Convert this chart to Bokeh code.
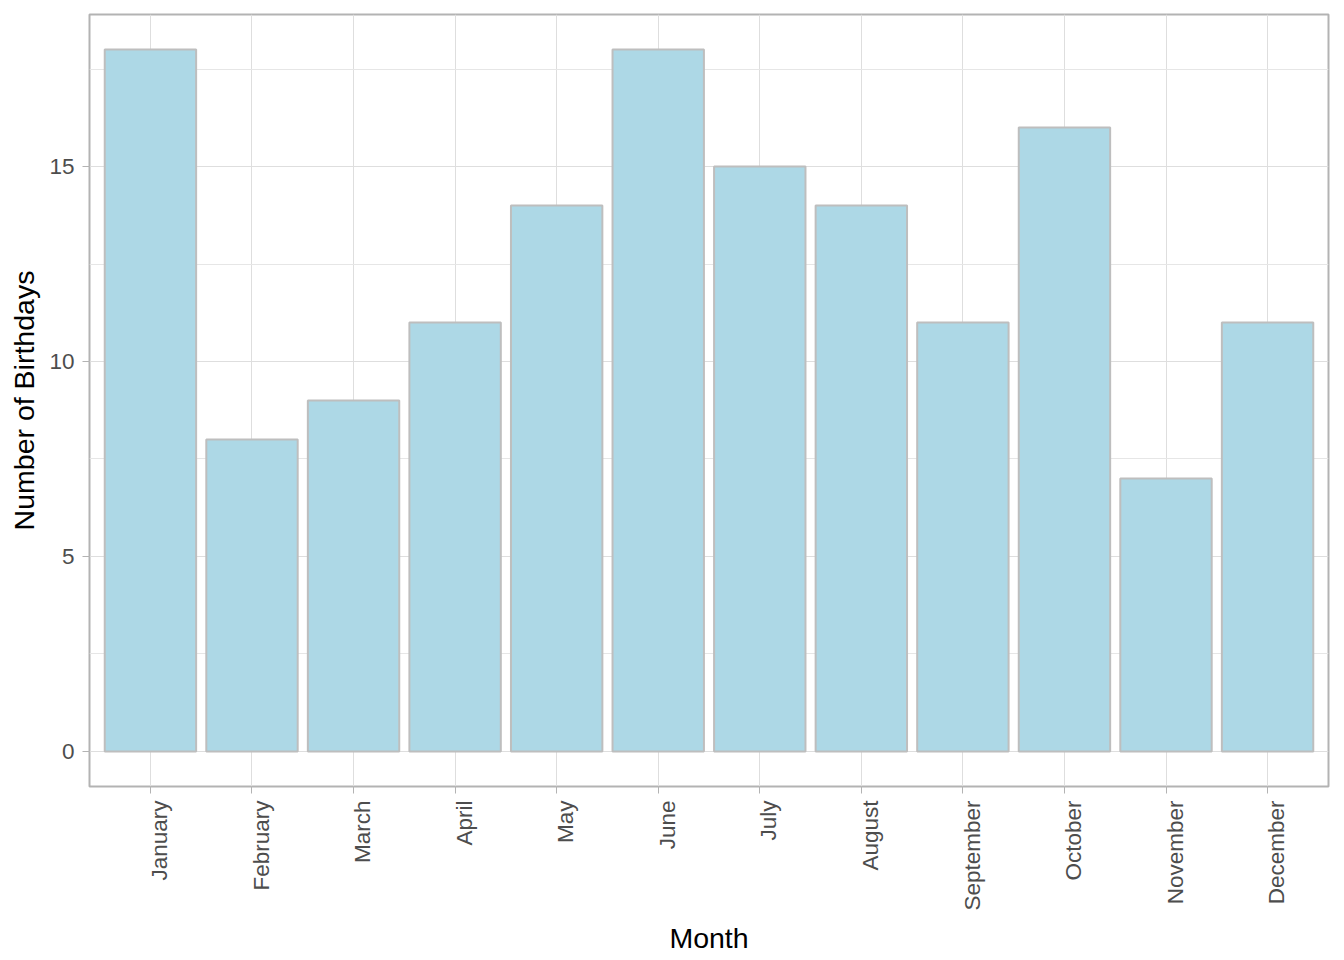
from bokeh.plotting import figure
from bokeh.models import ColumnDataSource, FixedTicker, Range1d, LinearAxis
from bokeh.embed import file_html
from bokeh.resources import INLINE
import math

months = ["January", "February", "March", "April", "May", "June",
          "July", "August", "September", "October", "November", "December"]
birthdays = [18, 8, 9, 11, 14, 18, 15, 14, 11, 16, 7, 11]
y_ticks = [0, 5, 10, 15]
y_minor = [2.5, 7.5, 12.5, 17.5]

pos = list(range(1, len(months) + 1))
src = ColumnDataSource(dict(x=pos, top=birthdays, month=months))

FONT = "Liberation Sans"
LABEL_SHIFT = 0.09  # rotated labels sit slightly right of their tick, as in the reference

p = figure(frame_width=1239, frame_height=772,
           x_range=Range1d(0.4, 12.6), y_range=Range1d(-0.9, 18.9),
           output_backend="svg", toolbar_location=None,
           min_border_left=89, min_border_right=8,
           min_border_top=14, min_border_bottom=166)

p.vbar(x="x", top="top", bottom=0, width=0.9, source=src,
       fill_color="#ADD8E6", line_color="#BEBEBE", line_width=2)

p.background_fill_color = "white"
p.border_fill_color = "white"
p.outline_line_color = "#B3B3B3"
p.outline_line_width = 2

# tick marks only
p.xaxis.ticker = FixedTicker(ticks=pos)
p.xaxis.major_label_overrides = {i: "" for i in pos}
p.xaxis.major_label_standoff = 0
p.yaxis.ticker = FixedTicker(ticks=y_ticks, minor_ticks=y_minor)

# month labels
label_pos = [i + LABEL_SHIFT for i in pos]
lab_ax = LinearAxis(ticker=FixedTicker(ticks=label_pos),
                    major_label_overrides={lp: m for lp, m in zip(label_pos, months)})
p.add_layout(lab_ax, "below")

p.xgrid.ticker = FixedTicker(ticks=pos)
p.xgrid.grid_line_color = "#DEDEDE"
p.xgrid.grid_line_width = 1
p.ygrid.grid_line_color = "#DEDEDE"
p.ygrid.grid_line_width = 1
p.ygrid.minor_grid_line_color = "#E6E6E6"
p.ygrid.minor_grid_line_width = 1

for ax in (p.xaxis[0], p.yaxis[0], lab_ax):
    ax.axis_line_color = None
    ax.major_tick_line_color = "#B3B3B3"
    ax.major_tick_line_width = 1
    ax.major_tick_in = 0
    ax.major_tick_out = 7
    ax.minor_tick_line_color = None
    ax.major_label_text_font = FONT
    ax.major_label_text_font_size = "22.5px"
    ax.major_label_text_color = "#4D4D4D"
    ax.axis_label_text_font = FONT
    ax.axis_label_text_font_size = "28.5px"
    ax.axis_label_text_color = "black"
    ax.axis_label_text_font_style = "normal"

lab_ax.major_tick_line_color = None
lab_ax.major_tick_out = 0
lab_ax.axis_label = "Month"
lab_ax.major_label_orientation = math.pi / 2
lab_ax.major_label_standoff = 7
lab_ax.axis_label_standoff = 8

p.yaxis.axis_label = "Number of Birthdays"
p.yaxis.major_label_standoff = 8
p.yaxis.axis_label_standoff = 6

open("out.html", "w").write(file_html(p, INLINE))
